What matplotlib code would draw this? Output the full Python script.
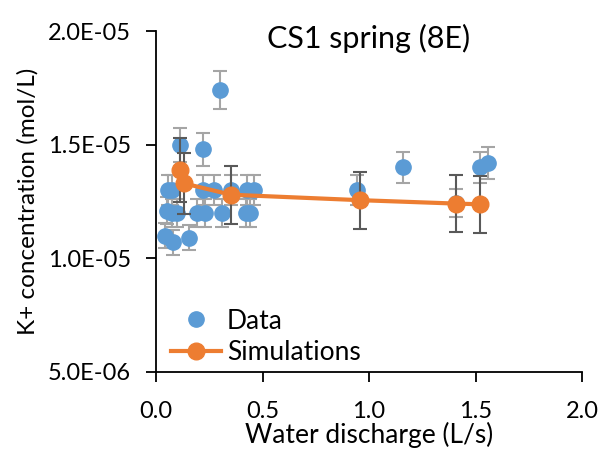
import matplotlib.pyplot as plt
import numpy as np
from matplotlib.ticker import FuncFormatter, MultipleLocator

plt.rcParams['font.family'] = ['Lato', 'DejaVu Sans']

# measured data (discharge in L/s, K+ in 1e-5 mol/L)
data_q = [0.30, 0.11, 0.22,
          0.055, 0.075, 0.22, 0.27, 0.35, 0.425, 0.46,
          0.05, 0.075, 0.10, 0.19, 0.23, 0.31, 0.42, 0.44,
          0.04, 0.08, 0.155,
          0.945, 1.158, 1.41, 1.52, 1.557]
data_k = [1.74, 1.50, 1.48,
          1.30, 1.30, 1.30, 1.30, 1.30, 1.30, 1.30,
          1.21, 1.20, 1.20, 1.20, 1.20, 1.20, 1.20, 1.20,
          1.10, 1.07, 1.09,
          1.30, 1.40, 1.245, 1.40, 1.42]
data_err = [0.085, 0.075, 0.073,
            0.065, 0.065, 0.065, 0.065, 0.065, 0.065, 0.065,
            0.06, 0.06, 0.06, 0.06, 0.06, 0.06, 0.06, 0.06,
            0.055, 0.055, 0.055,
            0.065, 0.07, 0.062, 0.07, 0.071]

# simulations
sim_q = [0.11, 0.13, 0.352, 0.958, 1.408, 1.521]
sim_k = [1.39, 1.33, 1.28, 1.256, 1.241, 1.238]
sim_err = [0.14, 0.135, 0.128, 0.126, 0.125, 0.126]

scale = 1e-5
dk = np.array(data_k) * scale
de = np.array(data_err) * scale
sk = np.array(sim_k) * scale
se = np.array(sim_err) * scale

fig = plt.figure(figsize=(6.05, 4.57), dpi=100)
ax = fig.add_axes([0.258, 0.186, 0.704, 0.746])

ax.errorbar(data_q, dk, yerr=de, fmt='none', ecolor='#A5A5A5',
            elinewidth=1.5, capsize=5, capthick=1.5, zorder=1)
ax.plot(data_q, dk, 'o', color='#5B9BD5', markersize=11, zorder=2,
        linestyle='none', label='Data')
ax.errorbar(sim_q, sk, yerr=se, fmt='none', ecolor='#595959',
            elinewidth=1.5, capsize=5, capthick=1.5, zorder=3)
ax.plot(sim_q, sk, '-o', color='#ED7D31', markersize=12, linewidth=3,
        zorder=4, label='Simulations')

ax.set_xlim(0, 2.0)
ax.set_ylim(5e-6, 2e-5)
ax.xaxis.set_major_locator(MultipleLocator(0.5))
ax.yaxis.set_major_locator(MultipleLocator(5e-6))
ax.xaxis.set_major_formatter(FuncFormatter(lambda v, p: f'{v:.1f}'))
ax.yaxis.set_major_formatter(FuncFormatter(lambda v, p: f'{v:.1E}'))

for s in ['top', 'right']:
    ax.spines[s].set_visible(False)
ax.spines['left'].set_linewidth(1.3)
ax.spines['bottom'].set_linewidth(1.3)
ax.tick_params(direction='out', length=7, width=1.3, labelsize=17)
ax.tick_params(axis='x', pad=14)
ax.tick_params(axis='y', pad=11)

ax.set_xlabel('Water discharge (L/s)', fontsize=19, labelpad=0)
ax.set_ylabel('K+ concentration (mol/L)', fontsize=17.5)
ax.yaxis.set_label_coords(-0.275, 0.5)
ax.text(0.5, 1.022, 'CS1 spring (8E)', transform=ax.transAxes,
        ha='center', va='top', fontsize=22)

ax.legend(loc='lower left', bbox_to_anchor=(-0.02, -0.05), frameon=False,
          fontsize=19, handlelength=1.9, handletextpad=0.2, labelspacing=0.25)

fig.savefig('out.png', dpi=100)
